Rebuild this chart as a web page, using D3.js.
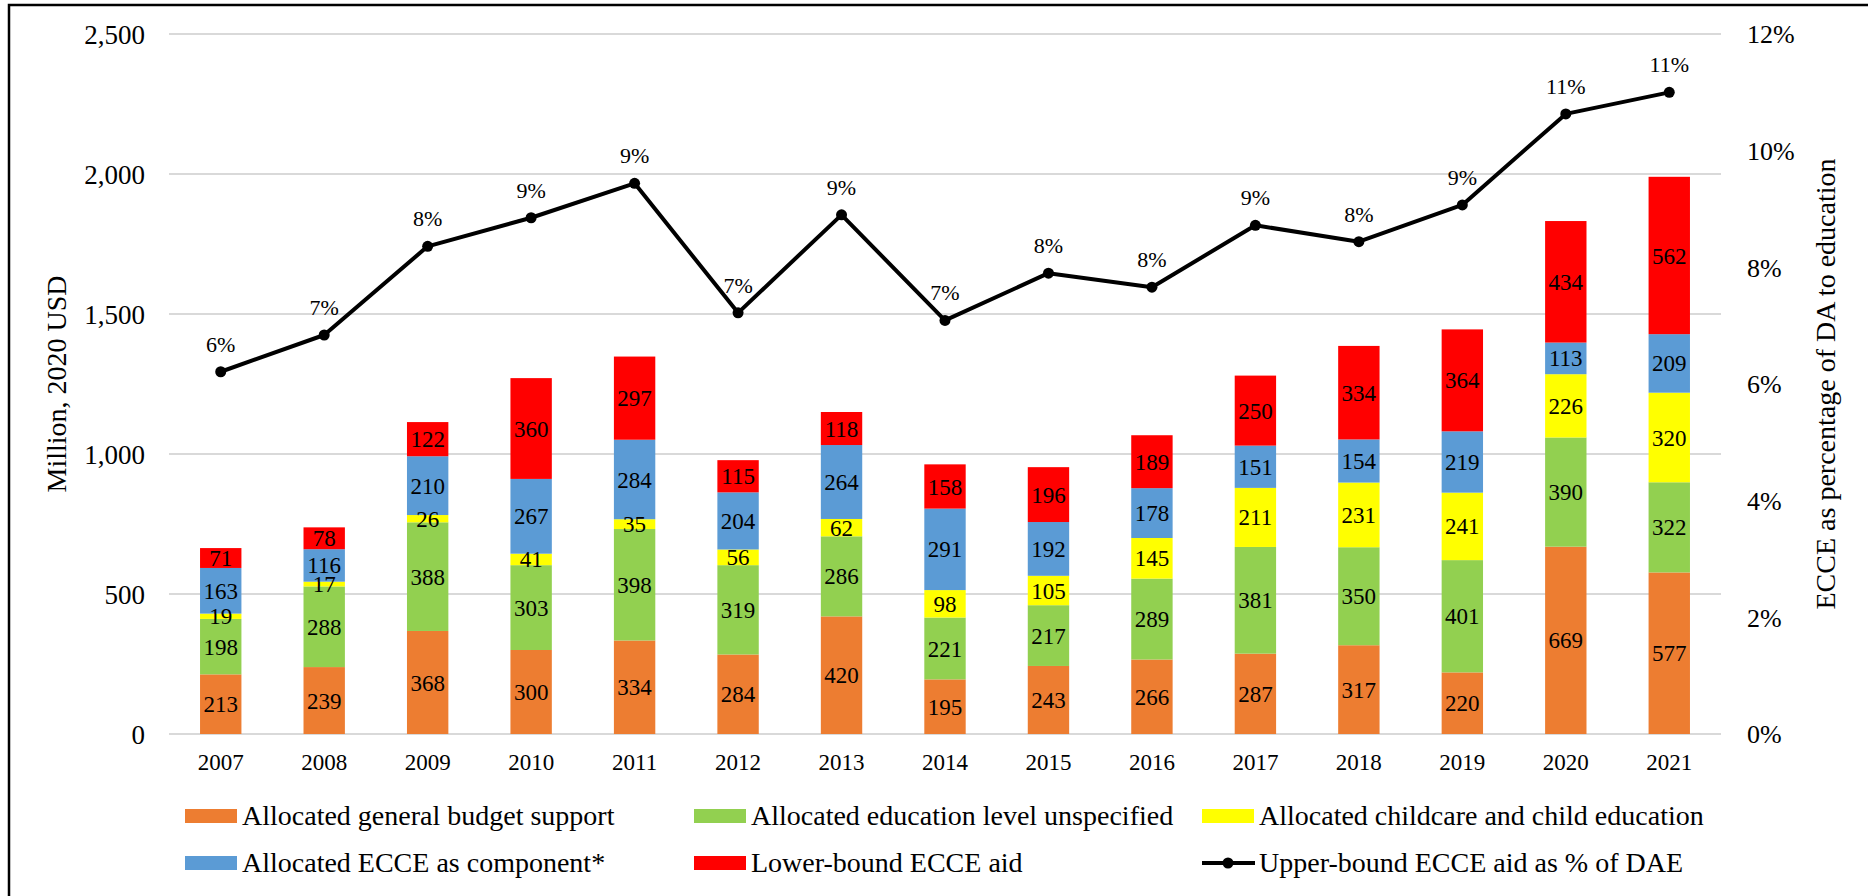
<!DOCTYPE html>
<html>
<head>
<meta charset="utf-8">
<script src="https://cdn.jsdelivr.net/npm/d3@7"></script>
<style>
  html, body { margin: 0; padding: 0; background: #fff; }
  svg { display: block; }
  text { font-family: "Liberation Serif", "Times New Roman", serif; fill: #000; }
</style>
</head>
<body>
<svg id="chart" width="1868" height="896"></svg>
<script>
// ECCE aid to education, million 2020 USD, by component, 2007-2021
const years = ["2007","2008","2009","2010","2011","2012","2013","2014","2015","2016","2017","2018","2019","2020","2021"];
const budgetSupport  = [213, 239, 368, 300, 334, 284, 420, 195, 243, 266, 287, 317, 220, 669, 577];
const eduUnspecified = [198, 288, 388, 303, 398, 319, 286, 221, 217, 289, 381, 350, 401, 390, 322];
const childcare      = [19, 17, 26, 41, 35, 56, 62, 98, 105, 145, 211, 231, 241, 226, 320];
const ecceComponent  = [163, 116, 210, 267, 284, 204, 264, 291, 192, 178, 151, 154, 219, 113, 209];
const lowerBound     = [71, 78, 122, 360, 297, 115, 118, 158, 196, 189, 250, 334, 364, 434, 562];
// Upper-bound ECCE aid as % of direct aid to education
const upperPct = [6.21, 6.84, 8.36, 8.85, 9.44, 7.22, 8.90, 7.09, 7.90, 7.66, 8.72, 8.44, 9.07, 10.63, 11.0];

const leftTicks  = [0, 500, 1000, 1500, 2000, 2500];
const rightTicks = [0, 2, 4, 6, 8, 10, 12];

const seriesNames = [
  "Allocated general budget support",
  "Allocated education level unspecified",
  "Allocated childcare and child education",
  "Allocated ECCE as component*",
  "Lower-bound ECCE aid"
];
const seriesColors = ["#ED7D31", "#92D050", "#FFFF00", "#5B9BD5", "#FF0000"];
const lineName = "Upper-bound ECCE aid as % of DAE";

const rows = years.map((y, i) => ({
  year: y,
  s0: budgetSupport[i], s1: eduUnspecified[i], s2: childcare[i], s3: ecceComponent[i], s4: lowerBound[i]
}));
const keys = ["s0", "s1", "s2", "s3", "s4"];

const svg = d3.select("#chart");
const plot = { left: 169, right: 1721, top: 34, bottom: 734 };

const x = d3.scaleBand().domain(years).range([plot.left, plot.right]).padding(0);
const barW = x.bandwidth() * 0.4;
const y = d3.scaleLinear().domain([0, 2500]).range([plot.bottom, plot.top]);
const y2 = d3.scaleLinear().domain([0, 12]).range([plot.bottom, plot.top]);
const cx = d => x(d) + x.bandwidth() / 2;

// outer frame
svg.append("rect")
  .attr("x", 9).attr("y", 5).attr("width", 1900).attr("height", 1000)
  .attr("fill", "none").attr("stroke", "#000").attr("stroke-width", 2.5);

// gridlines
svg.append("g").selectAll("line").data(leftTicks).join("line")
  .attr("x1", plot.left).attr("x2", plot.right)
  .attr("y1", d => y(d)).attr("y2", d => y(d))
  .attr("stroke", "#d9d9d9").attr("stroke-width", 2);

// left axis
const leftAxis = svg.append("g")
  .attr("transform", `translate(${plot.left - 24},0)`)
  .call(d3.axisLeft(y).tickValues(leftTicks).tickFormat(d3.format(",")).tickSize(0).tickPadding(0));
leftAxis.select(".domain").remove();
leftAxis.selectAll("text").attr("font-size", 27).attr("font-family", null).attr("dy", "0.34em");

// right axis
const rightAxis = svg.append("g")
  .attr("transform", `translate(${plot.right + 26},0)`)
  .call(d3.axisRight(y2).tickValues(rightTicks).tickFormat(d => d + "%").tickSize(0).tickPadding(0));
rightAxis.select(".domain").remove();
rightAxis.selectAll("text").attr("font-size", 26).attr("font-family", null).attr("dy", "0.34em");

// bottom axis (years)
const bottomAxis = svg.append("g")
  .attr("transform", `translate(0,${plot.bottom})`)
  .call(d3.axisBottom(x).tickSize(0).tickPadding(0));
bottomAxis.select(".domain").remove();
bottomAxis.selectAll("text").attr("font-size", 23).attr("font-family", null).attr("dy", null).attr("y", 36);

// axis titles
svg.append("text")
  .attr("transform", "translate(66,384) rotate(-90)")
  .attr("text-anchor", "middle").attr("font-size", 28)
  .text("Million, 2020 USD");
svg.append("text")
  .attr("transform", "translate(1835,384) rotate(-90)")
  .attr("text-anchor", "middle").attr("font-size", 28)
  .text("ECCE as percentage of DA to education");

// stacked bars
const stacked = d3.stack().keys(keys)(rows);
const layers = svg.append("g").selectAll("g").data(stacked).join("g")
  .attr("fill", (d, i) => seriesColors[i]);
layers.selectAll("rect").data(d => d).join("rect")
  .attr("x", d => cx(d.data.year) - barW / 2)
  .attr("width", barW)
  .attr("y", d => y(d[1]))
  .attr("height", d => y(d[0]) - y(d[1]));

// segment value labels
const labels = svg.append("g");
stacked.forEach(layer => {
  labels.selectAll(null).data(layer).join("text")
    .attr("x", d => cx(d.data.year))
    .attr("y", d => (y(d[0]) + y(d[1])) / 2)
    .attr("dy", "0.35em")
    .attr("text-anchor", "middle")
    .attr("font-size", 23)
    .text(d => d[1] - d[0]);
});

// percentage line
const linePts = years.map((yr, i) => [cx(yr), y2(upperPct[i])]);
svg.append("path")
  .attr("d", d3.line()(linePts))
  .attr("fill", "none").attr("stroke", "#000").attr("stroke-width", 4)
  .attr("stroke-linejoin", "round");
svg.append("g").selectAll("circle").data(linePts).join("circle")
  .attr("cx", d => d[0]).attr("cy", d => d[1]).attr("r", 5.5).attr("fill", "#000");
svg.append("g").selectAll("text").data(upperPct).join("text")
  .attr("x", (d, i) => cx(years[i]))
  .attr("y", d => y2(d) - 20)
  .attr("text-anchor", "middle").attr("font-size", 22)
  .text(d => Math.round(d) + "%");

// legend
const legendItems = [
  { name: seriesNames[0], color: seriesColors[0], x: 185, row: 0 },
  { name: seriesNames[1], color: seriesColors[1], x: 694, row: 0 },
  { name: seriesNames[2], color: seriesColors[2], x: 1202, row: 0 },
  { name: seriesNames[3], color: seriesColors[3], x: 185, row: 1 },
  { name: seriesNames[4], color: seriesColors[4], x: 694, row: 1 },
  { name: lineName, color: null, x: 1202, row: 1 }
];
const rowY = [816, 863];
const legend = svg.append("g");
legendItems.forEach(it => {
  const cy = rowY[it.row];
  if (it.color) {
    legend.append("rect")
      .attr("x", it.x).attr("y", cy - 7).attr("width", 52).attr("height", 14)
      .attr("fill", it.color);
  } else {
    legend.append("line")
      .attr("x1", it.x).attr("x2", it.x + 53).attr("y1", cy).attr("y2", cy)
      .attr("stroke", "#000").attr("stroke-width", 4);
    legend.append("circle").attr("cx", it.x + 26).attr("cy", cy).attr("r", 5.5).attr("fill", "#000");
  }
  legend.append("text")
    .attr("x", it.x + 57).attr("y", cy + 9)
    .attr("font-size", 28)
    .text(it.name);
});
</script>
</body>
</html>
